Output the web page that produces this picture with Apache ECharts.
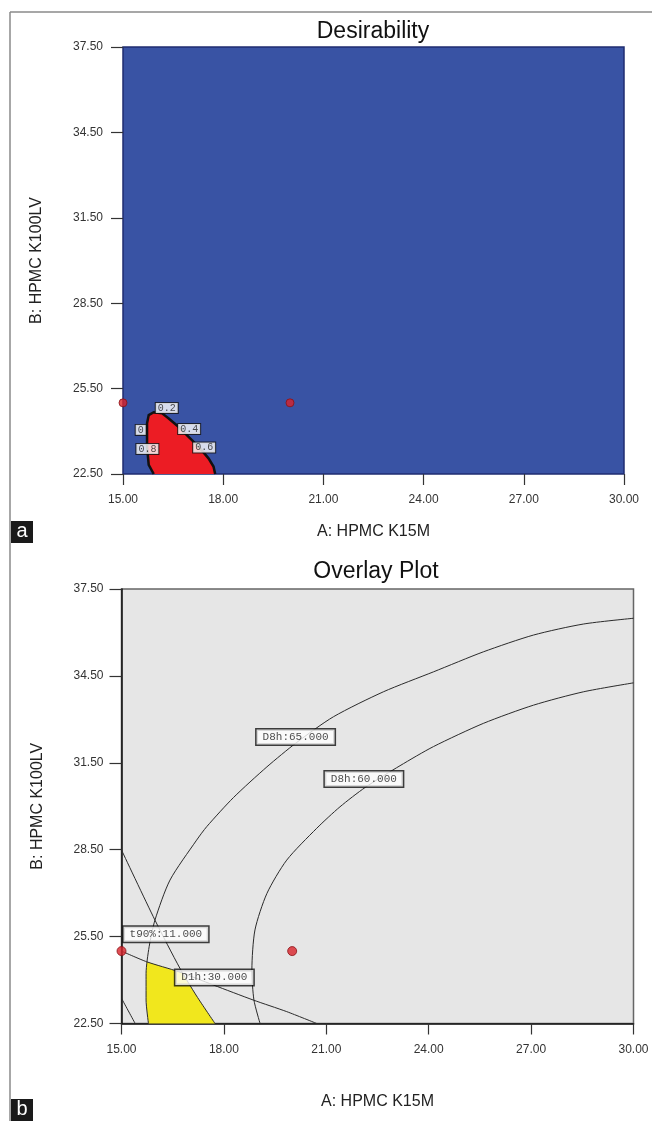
<!DOCTYPE html>
<html><head><meta charset="utf-8">
<script src="https://cdn.jsdelivr.net/npm/echarts@6/dist/echarts.min.js"></script>
<style>html,body{margin:0;padding:0;background:#fff}#c{width:652px;height:1121px}</style>
</head><body><div id="c"></div>
<script>
// ---- axes ----
const xTicks = [15, 18, 21, 24, 27, 30];
const yTicks = [22.5, 25.5, 28.5, 31.5, 34.5, 37.5];
const xTitle = 'A: HPMC K15M';
const yTitle = 'B: HPMC K100LV';
const titleTop = 'Desirability';
const titleBottom = 'Overlay Plot';

// ---- design points (both panels) ----
const designX = [15, 20];
const designY = [25.0, 25.0];

// ---- panel a: desirability > 0 region (red) ----
const desirRegionX = [15.92, 15.77, 15.72, 15.72, 15.77, 15.92, 16.17, 16.36, 16.66, 17.01, 17.31, 17.56, 17.71, 17.76];
const desirRegionY = [22.50, 22.82, 23.46, 24.28, 24.57, 24.67, 24.63, 24.46, 24.16, 23.75, 23.40, 23.05, 22.76, 22.50];
const desirLabels = ['0', '0.2', '0.4', '0.6', '0.8'];
const desirLabelX = [15.53, 16.31, 16.98, 17.43, 15.73];
const desirLabelY = [24.05, 24.82, 24.08, 23.43, 23.38];

// ---- panel b: overlay contours ----
const d8h65X = [15.79, 15.72, 15.72, 15.81, 15.98, 16.42, 17.20, 17.50, 18.28, 19.26, 20.13, 21.21, 22.67, 24.14, 25.60, 27.07, 28.53, 30.00];
const d8h65Y = [22.50, 23.31, 24.23, 25.15, 26.07, 27.45, 28.83, 29.30, 30.30, 31.36, 32.20, 33.09, 33.95, 34.64, 35.33, 35.91, 36.29, 36.49];
const d8h60X = [19.06, 18.88, 18.82, 18.91, 19.26, 19.84, 20.72, 21.40, 22.14, 23.16, 24.14, 25.60, 27.07, 28.53, 30.00];
const d8h60Y = [22.50, 23.31, 24.35, 25.73, 26.99, 28.14, 29.24, 29.98, 30.65, 31.40, 32.06, 32.86, 33.49, 33.95, 34.26];
const t90X = [15.00, 15.98, 16.71, 17.20, 17.74];
const t90Y = [28.49, 26.07, 24.41, 23.45, 22.50];
const t90bX = [15.00, 15.40];
const t90bY = [23.37, 22.50];
const d1hX = [15.00, 15.74, 16.67, 17.69, 18.86, 19.84, 20.72];
const d1hY = [25.00, 24.63, 24.29, 23.83, 23.31, 22.91, 22.50];
const sweetX = [15.79, 15.72, 15.72, 15.74, 16.76, 17.20, 17.74];
const sweetY = [22.50, 23.31, 24.23, 24.63, 24.25, 23.45, 22.50];
const overlayLabels = ['D8h:65.000', 'D8h:60.000', 't90%:11.000', 'D1h:30.000'];
const overlayLabelX = [20.10, 22.10, 16.30, 17.72];
const overlayLabelY = [32.39, 30.94, 25.58, 24.09];

const zip = (a, b) => a.map((v, i) => [v, b[i]]);
const fmt = v => Number(v).toFixed(2);

const chart = echarts.init(document.getElementById('c'), null, {renderer: 'canvas'});

function regionSeries(xi, yi, xs, ys, fill, stroke, strokeW) {
  const pts = zip(xs, ys);
  return {
    type: 'custom', xAxisIndex: xi, yAxisIndex: yi, silent: true, z: 2,
    data: pts,
    renderItem: function (params, api) {
      if (params.dataIndex !== 0) return null;
      const p = pts.map(q => api.coord(q));
      const children = [{type: 'polygon', shape: {points: p}, style: {fill: fill}}];
      if (stroke) {
        children.push({type: 'polyline', shape: {points: p}, style: {stroke: stroke, lineWidth: strokeW, fill: null}});
      }
      return {type: 'group', children: children};
    }
  };
}
function lineSeries(xs, ys) {
  return {
    type: 'line', xAxisIndex: 1, yAxisIndex: 1, data: zip(xs, ys), smooth: 0.25,
    showSymbol: false, silent: true, z: 3,
    lineStyle: {color: '#2a2a2a', width: 1}
  };
}
function labelSeries(xi, yi, xs, ys, texts, fontSize, pad, bw) {
  return {
    type: 'scatter', xAxisIndex: xi, yAxisIndex: yi, silent: true, z: 5,
    symbol: 'rect', symbolSize: 1, itemStyle: {color: 'rgba(0,0,0,0)'},
    data: xs.map((x, i) => ({value: [x, ys[i]], name: texts[i]})),
    label: {
      show: true, position: 'inside', formatter: p => p.name,
      fontFamily: 'Liberation Mono', fontSize: fontSize, color: '#222',
      backgroundColor: '#fff', borderColor: '#111', borderWidth: bw, padding: pad
    }
  };
}

const axisCommonX = (gi) => ({
  type: 'value', gridIndex: gi, min: 15, max: 30, interval: 3,
  splitLine: {show: false},
  axisLine: {show: gi === 1, lineStyle: {color: '#111', width: 1.5}},
  axisTick: {show: true, length: 11, lineStyle: {color: '#333', width: 1.2}, customValues: xTicks},
  axisLabel: {color: '#333', fontSize: 12, fontFamily: 'Liberation Sans', margin: 20, formatter: fmt, customValues: xTicks, showMinLabel: true, showMaxLabel: true},
  name: xTitle, nameLocation: 'middle', nameGap: gi === 0 ? 50 : 70,
  nameTextStyle: {color: '#222', fontSize: 16, fontFamily: 'Liberation Sans'}
});
const axisCommonY = (gi) => ({
  type: 'value', gridIndex: gi, min: 22.5, max: 37.5,
  splitLine: {show: false},
  axisLine: {show: gi === 1, lineStyle: {color: '#111', width: 1.5}},
  axisTick: {show: true, length: 12, lineStyle: {color: '#333', width: 1.2}, customValues: yTicks},
  axisLabel: {color: '#333', fontSize: 12, fontFamily: 'Liberation Sans', margin: gi === 0 ? 20 : 18, formatter: fmt, customValues: yTicks},
  name: yTitle, nameLocation: 'middle', nameGap: gi === 0 ? 78 : 76, nameRotate: 90,
  nameTextStyle: {color: '#222', fontSize: 16, fontFamily: 'Liberation Sans'}
});

const option = {
  animation: false,
  backgroundColor: '#fff',
  grid: [
    {left: 123, top: 47, width: 501, height: 427, show: true, backgroundColor: '#3953a4', borderColor: '#1f2c70', borderWidth: 1.5, containLabel: false},
    {left: 121.5, top: 589, width: 512, height: 434.5, show: true, backgroundColor: '#e6e6e6', borderColor: '#666', borderWidth: 1.5, containLabel: false}
  ],
  xAxis: [axisCommonX(0), axisCommonX(1)],
  yAxis: [axisCommonY(0), axisCommonY(1)],
  graphic: [
    {type: 'line', shape: {x1: 10, y1: 12, x2: 652, y2: 12}, style: {stroke: '#8a8a8a', lineWidth: 1.5}},
    {type: 'line', shape: {x1: 10, y1: 12, x2: 10, y2: 1121}, style: {stroke: '#8a8a8a', lineWidth: 1.5}},
    {type: 'text', x: 373, y: 32, style: {text: titleTop, font: '23px "Liberation Sans"', fill: '#111', textAlign: 'center', textVerticalAlign: 'middle'}},
    {type: 'text', x: 376, y: 572, style: {text: titleBottom, font: '23px "Liberation Sans"', fill: '#111', textAlign: 'center', textVerticalAlign: 'middle'}},
    {type: 'rect', shape: {x: 11, y: 521, width: 22, height: 22}, style: {fill: '#1a1a1a'}},
    {type: 'text', x: 22, y: 531, style: {text: 'a', font: '20px "Liberation Sans"', fill: '#fff', textAlign: 'center', textVerticalAlign: 'middle'}},
    {type: 'rect', shape: {x: 11, y: 1099, width: 22, height: 22}, style: {fill: '#1a1a1a'}},
    {type: 'text', x: 22, y: 1109, style: {text: 'b', font: '20px "Liberation Sans"', fill: '#fff', textAlign: 'center', textVerticalAlign: 'middle'}}
  ],
  series: [
    regionSeries(0, 0, desirRegionX, desirRegionY, '#ec1c24', '#111', 2.5),
    labelSeries(0, 0, desirLabelX, desirLabelY, desirLabels, 10, [0, 2], 1),
    {type: 'scatter', xAxisIndex: 0, yAxisIndex: 0, data: zip(designX, designY), symbolSize: 8, z: 6,
      itemStyle: {color: '#d9232b', borderColor: '#8a1015', borderWidth: 1}},

    regionSeries(1, 1, sweetX, sweetY, '#f1e71d', null, 0),
    lineSeries(d8h65X, d8h65Y),
    lineSeries(d8h60X, d8h60Y),
    lineSeries(t90X, t90Y),
    lineSeries(t90bX, t90bY),
    lineSeries(d1hX, d1hY),
    labelSeries(1, 1, overlayLabelX, overlayLabelY, overlayLabels, 11, [2, 6], 1.5),
    {type: 'scatter', xAxisIndex: 1, yAxisIndex: 1, data: zip(designX, designY), symbolSize: 9, z: 6,
      itemStyle: {color: '#d9232b', borderColor: '#8a1015', borderWidth: 1}}
  ]
};
chart.setOption(option);
</script>
</body></html>
